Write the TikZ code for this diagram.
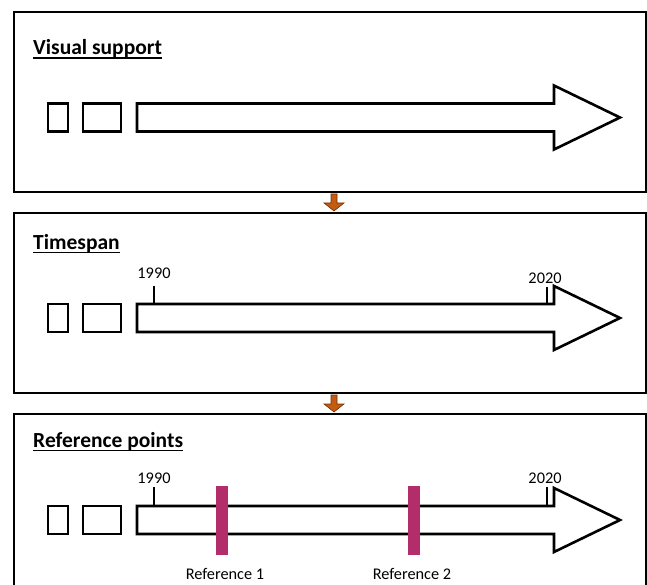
\documentclass[tikz,border=0pt]{standalone}
\usepackage{fontspec}
\setmainfont{Carlito}
\usetikzlibrary{calc}
\definecolor{refmag}{RGB}{178,45,105}
\definecolor{arrorange}{RGB}{197,90,17}
\definecolor{arredge}{RGB}{110,50,10}
\tikzset{
  panel/.style={draw=black, line width=2pt, rectangle, inner sep=0pt, anchor=north west},
  title/.style={font=\fontsize{21.5}{25}\selectfont\bfseries, anchor=base west, inner sep=0pt},
  yearlbl/.style={font=\fontsize{16.3}{19}\selectfont, anchor=base, inner sep=0pt},
  reflbl/.style={font=\fontsize{16.3}{19}\selectfont, anchor=base, inner sep=0pt},
  shapeline/.style={draw=black, line width=2.6pt, fill=white, line join=miter},
  tickline/.style={draw=black, line width=2.4pt},
  refbar/.style={fill=refmag, draw=none, rectangle, inner sep=0pt, minimum width=12pt, minimum height=69pt},
  flowarrow/.style={fill=arrorange, draw=arredge, line width=0.6pt, line join=miter},
  uline/.style={draw=black, line width=1.4pt}
}
\begin{document}
\begin{tikzpicture}[x=1pt,y=-1pt]
\useasboundingbox (0,0) rectangle (647,585);
\clip (0,0) rectangle (647,585);
% panels
\node[panel, minimum width=632pt, minimum height=180pt] (p1) at (13,11) {};
\node[panel, minimum width=632pt, minimum height=180pt] (p2) at (13,212) {};
\node[panel, minimum width=632pt, minimum height=200pt] (p3) at (13,413) {};
% titles
\node[title] (t1) at (33,55) {Visual support};
\node[title] (t2) at (33,249) {Timespan};
\node[title] (t3) at (33,447.5) {Reference points};
\foreach \t in {t1,t2,t3}{
  \draw[uline] ([yshift=-3.2pt]\t.base west) -- ([yshift=-3.2pt]\t.base east);
}
% timelines
\foreach \c/\n in {117.5/1,318/2,520/3}{
  \draw[shapeline] (48,\c-14) rectangle (68,\c+14);
  \draw[shapeline] (83,\c-14) rectangle (121,\c+14);
  \draw[shapeline] (137,\c-14) -- (554,\c-14) -- (554,\c-32) -- (620,\c) -- (554,\c+32) -- (554,\c+14) -- (137,\c+14) -- cycle;
  \coordinate (c\n) at (137,\c);
}
% ticks and years
\draw[tickline] (154,286) -- (154,304.5);
\draw[tickline] (547,287) -- (547,304.5);
\node[yearlbl] (y1990a) at (154,278.5) {1990};
\node[yearlbl] (y2020a) at (545,283) {2020};
\draw[tickline] (154,487) -- (154,506.5);
\draw[tickline] (547,487) -- (547,506.5);
\node[yearlbl] (y1990b) at (154,483) {1990};
\node[yearlbl] (y2020b) at (545,483) {2020};
% reference bars
\node[refbar] (r1) at (222,520.5) {};
\node[refbar] (r2) at (413.5,520.5) {};
\node[reflbl] (l1) at (225,579) {Reference 1};
\node[reflbl] (l2) at (412,579) {Reference 2};
% flow arrows between panels
\foreach \a/\b in {p1/p2,p2/p3}{
  \draw[flowarrow] ($(\a.south)+(1,1)$) -- ($(\a.south)+(1,10)$) -- ($(\a.south)+(-6,10)$)
     -- ($(\b.north)+(4,-1)$) -- ($(\a.south)+(14,10)$) -- ($(\a.south)+(7,10)$) -- ($(\a.south)+(7,1)$) -- cycle;
}
\end{tikzpicture}
\end{document}
